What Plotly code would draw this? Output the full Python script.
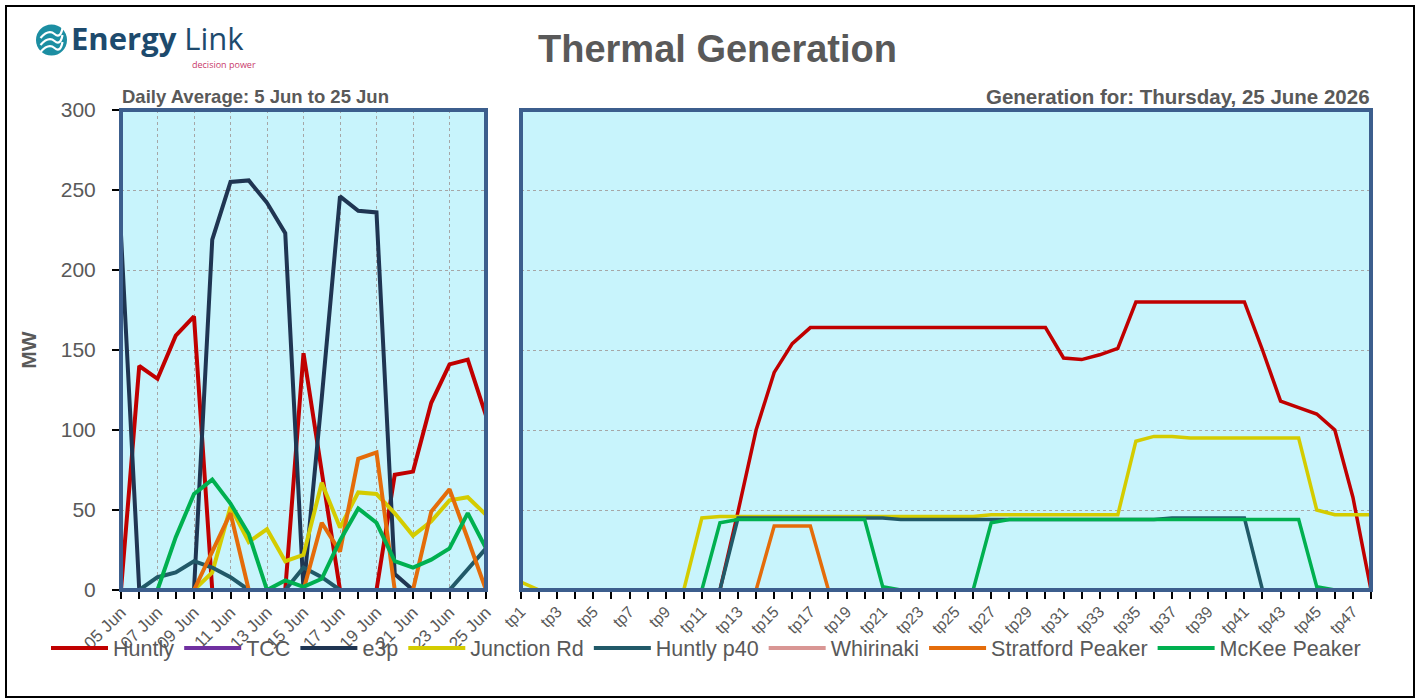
import plotly.graph_objects as go

# ---------------- data ----------------
days = ['2026-06-05', '2026-06-06', '2026-06-07', '2026-06-08', '2026-06-09', '2026-06-10',
        '2026-06-11', '2026-06-12', '2026-06-13', '2026-06-14', '2026-06-15', '2026-06-16',
        '2026-06-17', '2026-06-18', '2026-06-19', '2026-06-20', '2026-06-21', '2026-06-22',
        '2026-06-23', '2026-06-24', '2026-06-25']

tps = ['tp1', 'tp2', 'tp3', 'tp4', 'tp5', 'tp6', 'tp7', 'tp8', 'tp9', 'tp10', 'tp11', 'tp12',
       'tp13', 'tp14', 'tp15', 'tp16', 'tp17', 'tp18', 'tp19', 'tp20', 'tp21', 'tp22', 'tp23', 'tp24',
       'tp25', 'tp26', 'tp27', 'tp28', 'tp29', 'tp30', 'tp31', 'tp32', 'tp33', 'tp34', 'tp35', 'tp36',
       'tp37', 'tp38', 'tp39', 'tp40', 'tp41', 'tp42', 'tp43', 'tp44', 'tp45', 'tp46', 'tp47', 'tp48']
tp_ticktext = [t if i % 2 == 0 else '' for i, t in enumerate(tps)]
tp_grid = [7, 15, 23, 31, 39]  # grid after every 8 trading periods (tp8, tp16, ...)

# daily averages (MW)
huntly_d    = [0, 140, 132, 159, 171, 0, 0, 0, 0, 0, 148, 72, 0, 0, 0, 72, 74, 117, 141, 144, 109]
tcc_d       = [0, 0, 0, 0, 0, 0, 0, 0, 0, 0, 0, 0, 0, 0, 0, 0, 0, 0, 0, 0, 0]
e3p_d       = [222, 0, 0, 0, 0, 219, 255, 256, 242, 223, 0, 120, 246, 237, 236, 10, 0, 0, 0, 0, 0]
junction_d  = [0, 0, 0, 0, 0, 11, 52, 30, 38, 18, 22, 67, 39, 61, 60, 48, 34, 43, 56, 58, 47]
p40_d       = [0, 0, 8, 11, 18, 14, 8, 0, 0, 0, 14, 8, 0, 0, 0, 0, 0, 0, 0, 13, 26]
whirinaki_d = [0, 0, 0, 0, 0, 0, 0, 0, 0, 0, 0, 0, 0, 0, 0, 0, 0, 0, 0, 0, 0]
stratford_d = [0, 0, 0, 0, 0, 24, 48, 0, 0, 0, 0, 42, 24, 82, 86, 0, 0, 49, 63, 32, 0]
mckee_d     = [0, 0, 0, 33, 60, 69, 54, 35, 0, 6, 2, 7, 31, 51, 42, 18, 14, 19, 26, 48, 26]

# generation by trading period on 25 June (MW)
huntly_t    = [0, 0, 0, 0, 0, 0, 0, 0, 0, 0, 0, 0, 49, 100, 136, 154,
               164, 164, 164, 164, 164, 164, 164, 164, 164, 164, 164, 164, 164, 164,
               145, 144, 147, 151, 180, 180, 180, 180, 180, 180, 180,
               150, 118, 114, 110, 100, 58, 0]
tcc_t       = [0, 0, 0, 0, 0, 0, 0, 0, 0, 0, 0, 0, 0, 0, 0, 0,
               0, 0, 0, 0, 0, 0, 0, 0, 0, 0, 0, 0, 0, 0, 0, 0,
               0, 0, 0, 0, 0, 0, 0, 0, 0, 0, 0, 0, 0, 0, 0, 0]
e3p_t       = [0, 0, 0, 0, 0, 0, 0, 0, 0, 0, 0, 0, 0, 0, 0, 0,
               0, 0, 0, 0, 0, 0, 0, 0, 0, 0, 0, 0, 0, 0, 0, 0,
               0, 0, 0, 0, 0, 0, 0, 0, 0, 0, 0, 0, 0, 0, 0, 0]
junction_t  = [5, 0, 0, 0, 0, 0, 0, 0, 0, 0, 45, 46, 46, 46, 46, 46,
               46, 46, 46, 46, 46, 46, 46, 46, 46, 46, 47, 47, 47, 47, 47, 47,
               47, 47, 93, 96, 96, 95, 95, 95, 95, 95, 95, 95, 50, 47, 47, 47]
p40_t       = [0, 0, 0, 0, 0, 0, 0, 0, 0, 0, 0, 0, 45, 45, 45, 45,
               45, 45, 45, 45, 45, 44, 44, 44, 44, 44, 44, 44, 44, 44, 44, 44,
               44, 44, 44, 44, 45, 45, 45, 45, 45, 0, 0, 0, 0, 0, 0, 0]
whirinaki_t = [0, 0, 0, 0, 0, 0, 0, 0, 0, 0, 0, 0, 0, 0, 0, 0,
               0, 0, 0, 0, 0, 0, 0, 0, 0, 0, 0, 0, 0, 0, 0, 0,
               0, 0, 0, 0, 0, 0, 0, 0, 0, 0, 0, 0, 0, 0, 0, 0]
stratford_t = [0, 0, 0, 0, 0, 0, 0, 0, 0, 0, 0, 0, 0, 0, 40, 40,
               40, 0, 0, 0, 0, 0, 0, 0, 0, 0, 0, 0, 0, 0, 0, 0,
               0, 0, 0, 0, 0, 0, 0, 0, 0, 0, 0, 0, 0, 0, 0, 0]
mckee_t     = [0, 0, 0, 0, 0, 0, 0, 0, 0, 0, 0, 42, 44, 44, 44, 44,
               44, 44, 44, 44, 2, 0, 0, 0, 0, 0, 42, 44, 44, 44, 44, 44,
               44, 44, 44, 44, 44, 44, 44, 44, 44, 44, 44, 44, 2, 0, 0, 0]

names = ['Huntly', 'TCC', 'e3p', 'Junction Rd', 'Huntly p40', 'Whirinaki', 'Stratford Peaker', 'McKee Peaker']
colors = ['#c00000', '#7030a0', '#1f3552', '#d4cc00', '#215968', '#d99694', '#e46c0a', '#00b050']
daily = [huntly_d, tcc_d, e3p_d, junction_d, p40_d, whirinaki_d, stratford_d, mckee_d]
periods = [huntly_t, tcc_t, e3p_t, junction_t, p40_t, whirinaki_t, stratford_t, mckee_t]

title_text = 'Thermal Generation'
left_sub = 'Daily Average: 5 Jun to 25 Jun'
right_sub = 'Generation for: Thursday, 25 June 2026'

# ---------------- figure ----------------
W, H = 1420, 699
def fx(p):
    return p / W
def fy(p):
    return 1 - p / H

SANS = 'Liberation Sans, Arial, sans-serif'
GREY = '#595959'
BORDER = '#3c5e8d'
GRID = '#a6a6a6'

fig = go.Figure()
for n, c, d in zip(names, colors, daily):
    fig.add_trace(go.Scatter(x=days, y=d, name=n, mode='lines', legendgroup=n,
                             line=dict(color=c, width=4), xaxis='x', yaxis='y'))
for n, c, d in zip(names, colors, periods):
    fig.add_trace(go.Scatter(x=tps, y=d, name=n, mode='lines', legendgroup=n, showlegend=False,
                             line=dict(color=c, width=3.5), xaxis='x2', yaxis='y2'))

ydom = [fy(590), fy(110)]
tickcommon = dict(ticks='outside', tickcolor='black', tickwidth=1.5)

fig.update_layout(
    width=W, height=H,
    margin=dict(l=0, r=0, t=0, b=0),
    paper_bgcolor='white', plot_bgcolor='#c8f4fc',
    showlegend=True,
    legend=dict(orientation='h', x=fx(706), xanchor='center', y=fy(648), yanchor='middle',
                font=dict(family=SANS, size=21.5, color=GREY), itemwidth=57,
                bgcolor='rgba(0,0,0,0)'),
    xaxis=dict(domain=[fx(121), fx(486)], anchor='y', type='date',
               range=[days[0], days[-1]], tick0=days[0], dtick=2 * 86400000,
               tickformat='%d %b', tickangle=-45, ticklen=8, **tickcommon,
               tickfont=dict(family=SANS, size=17, color=GREY), ticklabelstandoff=-3,
               showgrid=True, gridcolor=GRID, griddash='dot', gridwidth=1,
               minor=dict(dtick=86400000, ticks='outside', ticklen=8, tickcolor='black',
                          tickwidth=1.5, showgrid=False),
               showline=False, zeroline=False, automargin=False, fixedrange=True),
    yaxis=dict(domain=ydom, anchor='x', range=[0, 300], dtick=50, ticklen=8, **tickcommon,
               tickfont=dict(family=SANS, size=21, color=GREY), ticklabelstandoff=12,
               showgrid=True, gridcolor=GRID, griddash='dot', gridwidth=1,
               zeroline=False, showline=False, automargin=False,
               title=dict(text='<b>MW</b>', font=dict(family=SANS, size=21, color=GREY), standoff=18)),
    xaxis2=dict(domain=[fx(521), fx(1371)], anchor='y2', type='category',
                range=[0, 47], tickmode='array', tickvals=tps, ticktext=tp_ticktext,
                tickangle=-45, ticklen=8, **tickcommon,
                tickfont=dict(family=SANS, size=16, color=GREY), ticklabelstandoff=-3,
                showgrid=False, zeroline=False, showline=False, automargin=False),
    xaxis3=dict(overlaying='x2', anchor='y2', type='linear', range=[0, 47],
                tickmode='array', tickvals=tp_grid, showticklabels=False, ticks='',
                showgrid=True, gridcolor=GRID, griddash='dot', gridwidth=1,
                zeroline=False, showline=False, automargin=False),
    yaxis2=dict(domain=ydom, anchor='x2', range=[0, 300], dtick=50,
                showticklabels=False, ticks='',
                showgrid=True, gridcolor=GRID, griddash='dot', gridwidth=1,
                zeroline=False, showline=False, automargin=False),
)

shapes = []
for xr, yr in [('x domain', 'y domain'), ('x2 domain', 'y2 domain')]:
    shapes.append(dict(type='rect', xref=xr, yref=yr, x0=0, x1=1, y0=0, y1=1,
                       line=dict(color=BORDER, width=4), layer='above'))
# outer chart frame
shapes.append(dict(type='rect', xref='paper', yref='paper', x0=fx(6), x1=fx(1414), y0=fy(697), y1=fy(6),
                   line=dict(color='black', width=2), layer='below'))
# logo circle
shapes.append(dict(type='circle', xref='paper', yref='paper', xsizemode='pixel', ysizemode='pixel',
                   xanchor=fx(51.5), yanchor=fy(40), x0=-15.5, x1=15.5, y0=-15.5, y1=15.5,
                   fillcolor='#1c8ea2', line=dict(width=0), layer='above'))
for off in [-7, 0, 7]:
    shapes.append(dict(type='path', xref='paper', yref='paper', xsizemode='pixel', ysizemode='pixel',
                       xanchor=fx(51.5), yanchor=fy(40),
                       path=f'M -11,{off - 5} Q -3,{off + 4} 3,{off - 1} T 11,{off + 5}',
                       line=dict(color='white', width=2.2), layer='above'))
fig.update_layout(shapes=shapes)

annotations = [
    dict(text='<b>' + title_text + '</b>', x=fx(717), y=fy(49), xref='paper', yref='paper',
         xanchor='center', yanchor='middle', showarrow=False,
         font=dict(family=SANS, size=38, color=GREY)),
    dict(text='<b>' + left_sub + '</b>', x=fx(120), y=fy(96), xref='paper', yref='paper',
         xanchor='left', yanchor='middle', showarrow=False,
         font=dict(family=SANS, size=18.5, color=GREY)),
    dict(text='<b>' + right_sub + '</b>', x=fx(1372), y=fy(96), xref='paper', yref='paper',
         xanchor='right', yanchor='middle', showarrow=False,
         font=dict(family=SANS, size=20.5, color=GREY)),
    dict(text='<b>Energy</b> Link', x=fx(69), y=fy(38), xref='paper', yref='paper',
         xanchor='left', yanchor='middle', showarrow=False,
         font=dict(family='Open Sans, sans-serif', size=31, color='#1d4a6d')),
    dict(text='decision power', x=fx(258), y=fy(65), xref='paper', yref='paper',
         xanchor='right', yanchor='middle', showarrow=False,
         font=dict(family='Open Sans, sans-serif', size=9, color='#c83a6a')),
]
fig.update_layout(annotations=annotations)

fig.write_html('out.html', post_script="document.body.style.margin='0';",
               config={'displayModeBar': False})
